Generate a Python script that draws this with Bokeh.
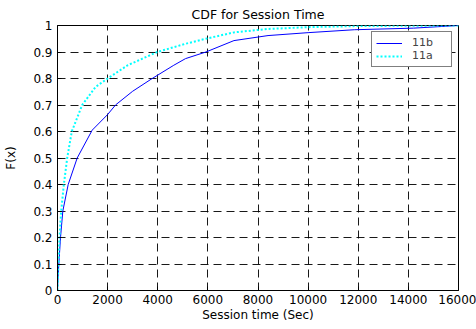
from bokeh.plotting import figure
from bokeh.models import Range1d, Legend, LegendItem, FixedTicker
from bokeh.embed import file_html
from bokeh.resources import INLINE

# data
x_11b = [0, 20, 53, 120, 213, 427, 786, 1384, 2000, 2314, 3000, 3778, 4640, 5107, 5920, 7040, 8400, 10000, 11840, 14200, 16000]
y_11b = [0, 0.05, 0.10, 0.20, 0.30, 0.40, 0.50, 0.605, 0.664, 0.70, 0.752, 0.80, 0.85, 0.875, 0.90, 0.943, 0.962, 0.973, 0.984, 0.99, 1.0]

x_11a = [0, 20, 40, 80, 147, 253, 387, 570, 985, 1516, 2000, 2800, 3980, 5107, 5920, 7040, 8400, 10100, 12000, 16000]
y_11a = [0, 0.05, 0.10, 0.20, 0.30, 0.40, 0.50, 0.60, 0.70, 0.768, 0.80, 0.85, 0.90, 0.931, 0.95, 0.974, 0.987, 0.994, 0.998, 1.0]

x_ticks = [0, 2000, 4000, 6000, 8000, 10000, 12000, 14000, 16000]
y_ticks = [0, 0.1, 0.2, 0.3, 0.4, 0.5, 0.6, 0.7, 0.8, 0.9, 1.0]
y_tick_labels = {0: "0", 0.1: "0.1", 0.2: "0.2", 0.3: "0.3", 0.4: "0.4", 0.5: "0.5",
                 0.6: "0.6", 0.7: "0.7", 0.8: "0.8", 0.9: "0.9", 1.0: "1"}

FONT = "DejaVu Sans"

p = figure(width=476, height=329, output_backend="svg", toolbar_location=None,
           x_range=Range1d(0, 16000), y_range=Range1d(0, 1),
           min_border_left=57, min_border_right=18, min_border_top=25, min_border_bottom=39,
           title="CDF for Session Time")

p.title.align = "center"
p.title.text_font = FONT
p.title.text_font_size = "12.5px"
p.title.text_font_style = "normal"
p.title.text_color = "black"
p.title.standoff = 7
p.title.offset = 5

p.outline_line_color = "black"
p.outline_line_width = 1
p.outline_line_alpha = 1

for ax in (p.xaxis[0], p.yaxis[0]):
    ax.axis_line_color = "black"
    ax.major_tick_in = 4
    ax.major_tick_out = 0
    ax.minor_tick_line_color = None
    ax.major_label_text_font = FONT
    ax.major_label_text_font_size = "12px"
    ax.major_label_text_color = "black"
    ax.axis_label_text_font = FONT
    ax.axis_label_text_font_size = "12px"
    ax.axis_label_text_font_style = "normal"
    ax.axis_label_text_color = "black"

p.xaxis.ticker = FixedTicker(ticks=x_ticks)
p.yaxis.ticker = FixedTicker(ticks=y_ticks)
p.yaxis.major_label_overrides = y_tick_labels
p.xaxis.major_label_standoff = 4
p.yaxis.major_label_standoff = 5
p.xaxis.axis_label = "Session time (Sec)"
p.yaxis.axis_label = "F(x)"
p.xaxis.axis_label_standoff = 1
p.yaxis.axis_label_standoff = 12

for g in (p.xgrid[0], p.ygrid[0]):
    g.grid_line_color = "black"
    g.grid_line_dash = "8 5"
    g.grid_line_width = 1
    g.grid_line_alpha = 0.9

r_b = p.line(x_11b, y_11b, line_color="#0000FF", line_width=1)
r_a = p.line(x_11a, y_11a, line_color="#00FFFF", line_width=2, line_dash="2 2")

legend = Legend(items=[LegendItem(label="11b", renderers=[r_b]),
                       LegendItem(label="11a", renderers=[r_a])],
                location="top_right")
legend.border_line_color = "black"
legend.border_line_width = 1
legend.background_fill_color = "white"
legend.background_fill_alpha = 1
legend.padding = 4
legend.spacing = 0
legend.margin = 6
legend.label_height = 12
legend.glyph_height = 12
legend.glyph_width = 26
legend.label_standoff = 10
legend.label_width = 35
legend.label_text_font = FONT
legend.label_text_font_size = "11px"
p.add_layout(legend, "center")

open("out.html", "w").write(file_html(p, INLINE))
